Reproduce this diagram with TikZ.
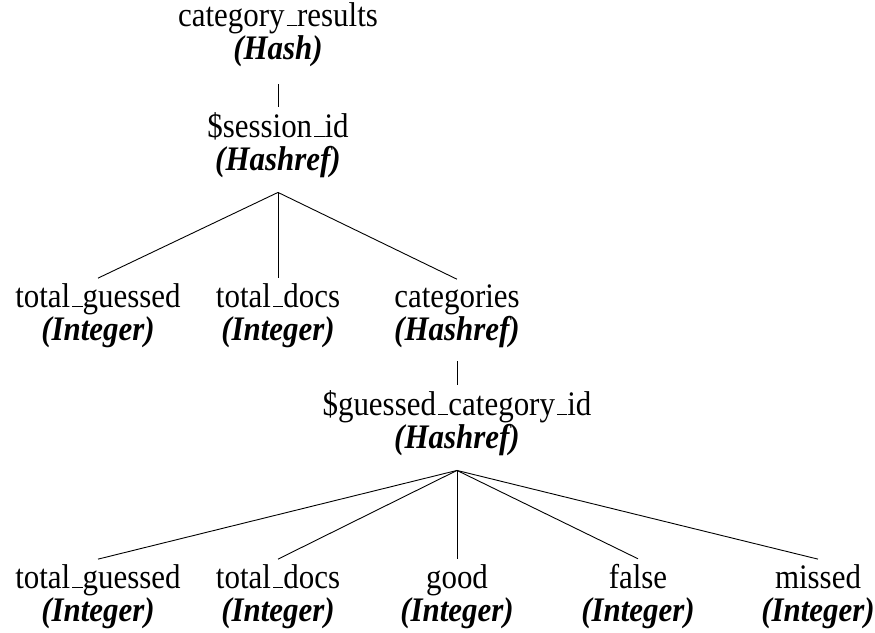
\documentclass[tikz,border=0pt]{standalone}
\usepackage{fontspec}
\setmainfont{Liberation Serif}[FakeStretch=0.9]

% underscore drawn as a short rule on the baseline
\newcommand{\us}{\leavevmode\kern.06em\vbox{\hrule height 1.4pt depth 0pt width .3em}}
% type annotation under each field name
\newcommand{\typ}[1]{\textbf{\textit{(#1)}}}
% two-line label: field name above, type below
\newcommand{\fld}[2]{\begin{tabular}[t]{@{}c@{}}#1\\\typ{#2}\end{tabular}}

\begin{document}
\begin{tikzpicture}[x=1pt,y=-1pt,
    field/.style={anchor=base,inner sep=0pt,outer sep=0pt,
      font=\fontsize{34.4pt}{32pt}\selectfont},
    edge/.style={draw=black,line width=0.9pt}]
  \useasboundingbox (0,0) rectangle (875,632);

  % level 0
  \node[field] (root) at (278,26) {\fld{category\us results}{Hash}};
  % level 1
  \node[field] (sess) at (278,137) {\fld{\$session\us id}{Hashref}};
  % level 2
  \node[field] (tg1) at (98,307)  {\fld{total\us guessed}{Integer}};
  \node[field] (td1) at (278,307) {\fld{total\us docs}{Integer}};
  \node[field] (cat) at (457,307) {\fld{categories}{Hashref}};
  % level 3
  \node[field] (gid) at (457,415) {\fld{\$guessed\us category\us id}{Hashref}};
  % level 4
  \node[field] (tg2)  at (98,588)  {\fld{total\us guessed}{Integer}};
  \node[field] (td2)  at (278,588) {\fld{total\us docs}{Integer}};
  \node[field] (good) at (457,588) {\fld{good}{Integer}};
  \node[field] (fal)  at (638,588) {\fld{false}{Integer}};
  \node[field] (mis)  at (818,588) {\fld{missed}{Integer}};

  % branching points just below each parent
  \coordinate (f0) at ([yshift=-15pt]root.south);
  \coordinate (f1) at ([yshift=-12pt]sess.south);
  \coordinate (f2) at ([yshift=-11pt]cat.south);
  \coordinate (f3) at ([yshift=-12pt]gid.south);

  \tikzset{top/.style={yshift=5pt}}
  \draw[edge] (f0) -- ([top]sess.north);
  \draw[edge] (f1) -- ([top]tg1.north);
  \draw[edge] (f1) -- ([top]td1.north);
  \draw[edge] (f1) -- ([top]cat.north);
  \draw[edge] (f2) -- ([top]gid.north);
  \draw[edge] (f3) -- ([top]tg2.north);
  \draw[edge] (f3) -- ([top]td2.north);
  \draw[edge] (f3) -- ([top]good.north);
  \draw[edge] (f3) -- ([top]fal.north);
  \draw[edge] (f3) -- ([top]mis.north);
\end{tikzpicture}
\end{document}
